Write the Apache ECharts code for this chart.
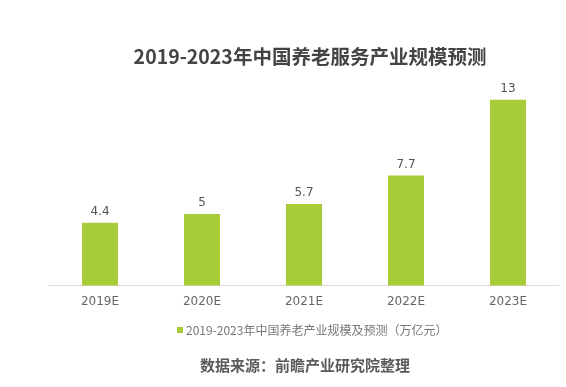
<!DOCTYPE html>
<html>
<head>
<meta charset="utf-8">
<script src="https://cdn.jsdelivr.net/npm/echarts@6/dist/echarts.min.js"></script>
<style>html,body{margin:0;padding:0;background:#fff;}#c{width:566px;height:387px;}</style>
</head>
<body>
<div id="c"></div>
<script>
const titleText = '2019-2023年中国养老服务产业规模预测';
const categories = ['2019E', '2020E', '2021E', '2022E', '2023E'];
const seriesName = '2019-2023年中国养老产业规模及预测（万亿元）';
const values = [4.4, 5, 5.7, 7.7, 13];
const sourceText = '数据来源：前瞻产业研究院整理';

const chart = echarts.init(document.getElementById('c'));
chart.setOption({
  backgroundColor: '#ffffff',
  animation: false,
  title: [{
    text: titleText,
    left: 305, top: 42, textAlign: 'center',
    textStyle: {fontFamily: 'Noto Sans CJK SC', fontSize: 19.5, fontWeight: 'bold', color: '#444'}
  }, {
    text: sourceText,
    left: 300, top: 353, textAlign: 'center',
    textStyle: {fontFamily: 'Noto Sans CJK SC', fontSize: 15, fontWeight: 'bold', color: '#5a5a5a'}
  }],
  legend: {
    data: [seriesName],
    left: 172, top: 319,
    icon: 'rect', itemWidth: 6, itemHeight: 6, itemGap: 4,
    textStyle: {fontFamily: 'Noto Sans CJK SC', fontSize: 12, color: '#777', padding: [0,0,0,-2]}
  },
  grid: {left: 49, right: 7, top: 85.5, bottom: 101.5},
  xAxis: {
    type: 'category', data: categories,
    axisLine: {lineStyle: {color: '#ddd', width: 1}},
    axisTick: {show: false},
    axisLabel: {fontFamily: 'DejaVu Sans', fontSize: 12, color: '#666', margin: 10}
  },
  yAxis: {type: 'value', min: 0, max: 14, show: false, splitLine: {show: false}},
  series: [{
    name: seriesName, type: 'bar', data: values, barWidth: 36,
    itemStyle: {color: '#a6cc38'},
    label: {show: true, position: 'top', distance: 5, fontFamily: 'DejaVu Sans', fontSize: 12, color: '#555'}
  }]
});
</script>
</body>
</html>
